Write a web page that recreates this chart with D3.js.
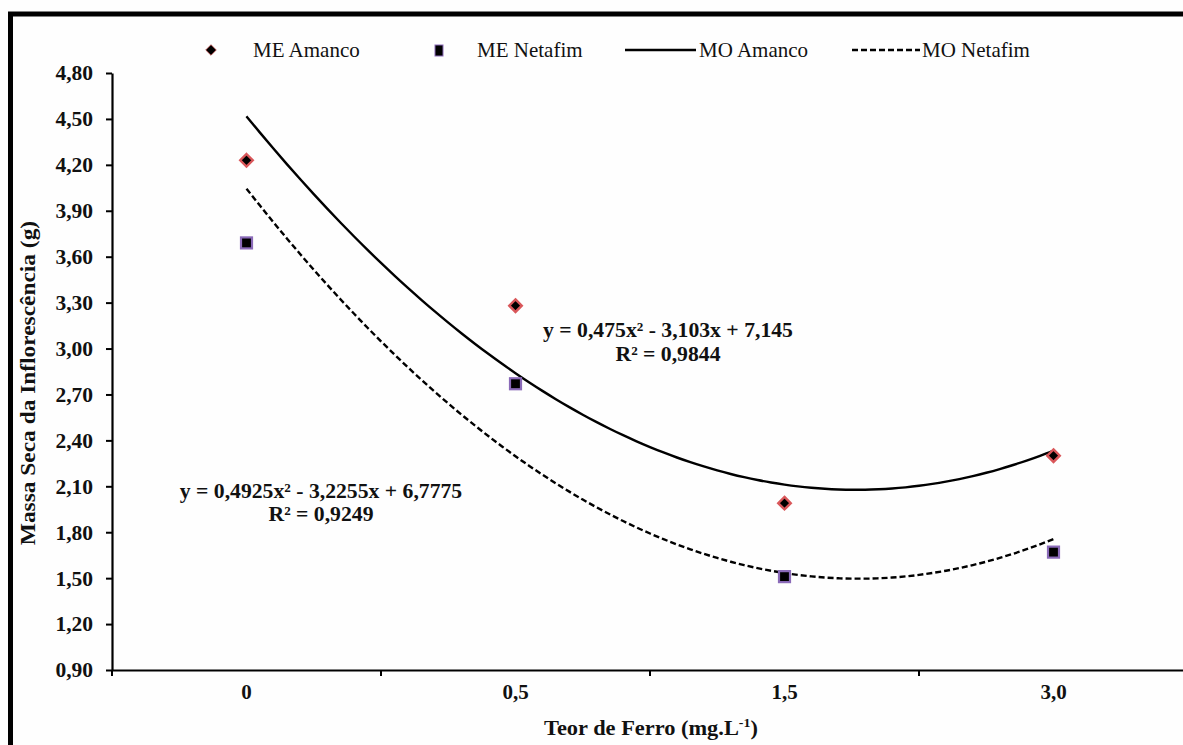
<!DOCTYPE html>
<html><head><meta charset="utf-8">
<script src="https://cdn.jsdelivr.net/npm/d3@7"></script>
<style>
html,body{margin:0;padding:0;background:#fff;}
svg{display:block;}
</style></head>
<body>
<svg id="c" width="1183" height="745"></svg>
<script>
// ---- data ----
const categories = ["0", "0,5", "1,5", "3,0"];
const meAmanco  = [4.23, 3.28, 1.99, 2.30];
const meNetafim = [3.69, 2.77, 1.51, 1.67];
// trend line coefficients shown on the chart (x = category position 1..4)
const moAmancoFit  = [0.475, -3.103, 7.145];
const moNetafimFit = [0.4925, -3.2255, 6.7775];
const yTicks = [0.9, 1.2, 1.5, 1.8, 2.1, 2.4, 2.7, 3.0, 3.3, 3.6, 3.9, 4.2, 4.5, 4.8];
const legendLabels = ["ME Amanco", "ME Netafim", "MO Amanco", "MO Netafim"];
const eqAmanco  = ["y = 0,475x² - 3,103x + 7,145", "R² = 0,9844"];
const eqNetafim = ["y = 0,4925x² - 3,2255x + 6,7775", "R² = 0,9249"];
const xTitle = "Teor de Ferro (mg.L";
const yTitle = "Massa Seca da Inflorescência (g)";

const FONT = "'Liberation Serif', 'Times New Roman', Tinos, 'DejaVu Serif', serif";
const svg = d3.select("#c").style("font-family", FONT);
const L = 112, R = 1188, T = 73, B = 670;

svg.append("rect").attr("x",0).attr("y",0).attr("width",1183).attr("height",745).attr("fill","#fefefe");
// outer frame (cut off at right/bottom)
svg.append("rect").attr("x",10.5).attr("y",14).attr("width",1200).attr("height",800)
  .attr("fill","none").attr("stroke","#000").attr("stroke-width",5);

const x = d3.scaleBand().domain(categories).range([L, R]).padding(0);
const y = d3.scaleLinear().domain([0.9, 4.8]).range([B, T]);
const fmt = v => d3.format(".2f")(v).replace(".", ",");

// y axis
const ya = svg.append("g").attr("transform",`translate(${L},0)`)
  .call(d3.axisLeft(y).tickValues(yTicks).tickFormat(fmt).tickSize(6).tickSizeOuter(0).tickPadding(13));
ya.select(".domain").attr("stroke","#000").attr("stroke-width",2.2);
ya.selectAll(".tick line").attr("stroke","#000").attr("stroke-width",2);
ya.selectAll(".tick text").style("font-family",FONT).attr("font-weight","bold")
  .attr("font-size",21.5).attr("fill","#111");

// x axis: line + ticks at band boundaries, labels at band centers
const xa = svg.append("g").attr("transform",`translate(0,${B})`)
  .call(d3.axisBottom(x).tickSize(0).tickSizeOuter(0).tickPadding(14));
xa.select(".domain").attr("stroke","#000").attr("stroke-width",2.2);
xa.selectAll(".tick text").style("font-family",FONT).attr("font-weight","bold")
  .attr("font-size",21).attr("fill","#111");
const bounds = categories.map(c => x(c)).concat([x(categories[categories.length-1]) + x.bandwidth()]);
svg.append("g").selectAll("line").data(bounds).join("line")
  .attr("x1",d=>d).attr("x2",d=>d).attr("y1",B).attr("y2",B+6)
  .attr("stroke","#000").attr("stroke-width",2);

// trend lines
const cx = d3.scaleLinear().domain([1, categories.length])
  .range([x(categories[0]) + x.bandwidth()/2, x(categories[categories.length-1]) + x.bandwidth()/2]);
function curvePts(c){
  const pts = [];
  for (let t = 1; t <= 4.0001; t += 0.05) pts.push([t, c[0]*t*t + c[1]*t + c[2]]);
  return pts;
}
const line = d3.line().x(d => cx(d[0])).y(d => y(d[1])).curve(d3.curveMonotoneX);
svg.append("path").attr("d", line(curvePts(moAmancoFit)))
  .attr("fill","none").attr("stroke","#000").attr("stroke-width",2.4);
svg.append("path").attr("d", line(curvePts(moNetafimFit)))
  .attr("fill","none").attr("stroke","#000").attr("stroke-width",2.4).attr("stroke-dasharray","6,3");

// markers
const diamond = d3.symbol().type(d3.symbolDiamond2);
const xc = c => x(c) + x.bandwidth()/2;
svg.append("g").selectAll("path").data(meAmanco).join("path")
  .attr("transform",(d,i)=>`translate(${xc(categories[i])},${y(d)})`)
  .attr("d", diamond.size(100)()).attr("fill","#000").attr("stroke","#d9575a").attr("stroke-width",2.4);
svg.append("g").selectAll("rect").data(meNetafim).join("rect")
  .attr("x",(d,i)=>xc(categories[i])-5.5).attr("y",d=>y(d)-5.5)
  .attr("width",11).attr("height",11)
  .attr("fill","#000").attr("stroke","#8a6ab8").attr("stroke-width",2.2);

// legend
const lg = svg.append("g").style("font-family",FONT).attr("font-size",21).attr("fill","#111");
lg.append("path").attr("transform","translate(211,50)").attr("d", diamond.size(70)())
  .attr("fill","#000").attr("stroke","#b04040").attr("stroke-width",0.8);
lg.append("text").attr("x",253).attr("y",57).text(legendLabels[0]);
lg.append("rect").attr("x",435).attr("y",45).attr("width",8).attr("height",11)
  .attr("fill","#000").attr("stroke","#8a6ab8").attr("stroke-width",1);
lg.append("text").attr("x",477).attr("y",57).text(legendLabels[1]);
lg.append("line").attr("x1",625).attr("x2",696).attr("y1",50).attr("y2",50).attr("stroke","#000").attr("stroke-width",2.4);
lg.append("text").attr("x",699).attr("y",57).text(legendLabels[2]);
lg.append("line").attr("x1",852).attr("x2",920).attr("y1",50).attr("y2",50).attr("stroke","#000").attr("stroke-width",2.4).attr("stroke-dasharray","6,3");
lg.append("text").attr("x",922).attr("y",57).text(legendLabels[3]);

// equations
const eq = svg.append("g").style("font-family",FONT).attr("font-weight","bold")
  .attr("font-size",21.7).attr("fill","#111").attr("text-anchor","middle");
eq.append("text").attr("x",668).attr("y",337).text(eqAmanco[0]);
eq.append("text").attr("x",668).attr("y",361).text(eqAmanco[1]);
eq.append("text").attr("x",321).attr("y",498).text(eqNetafim[0]);
eq.append("text").attr("x",321).attr("y",521).text(eqNetafim[1]);

// axis titles
const xt = svg.append("text").attr("transform","translate(651,735) scale(1.12,1)").attr("text-anchor","middle")
  .style("font-family",FONT).attr("font-weight","bold").attr("font-size",20).attr("fill","#111");
xt.append("tspan").text(xTitle);
xt.append("tspan").attr("font-size",12.5).attr("dy",-8).text("-1");
xt.append("tspan").attr("dy",8).text(")");
svg.append("text").attr("transform","translate(35,383) rotate(-90) scale(1.17,1)").attr("text-anchor","middle")
  .style("font-family",FONT).attr("font-weight","bold").attr("font-size",20).attr("fill","#111")
  .text(yTitle);
</script>
</body></html>
